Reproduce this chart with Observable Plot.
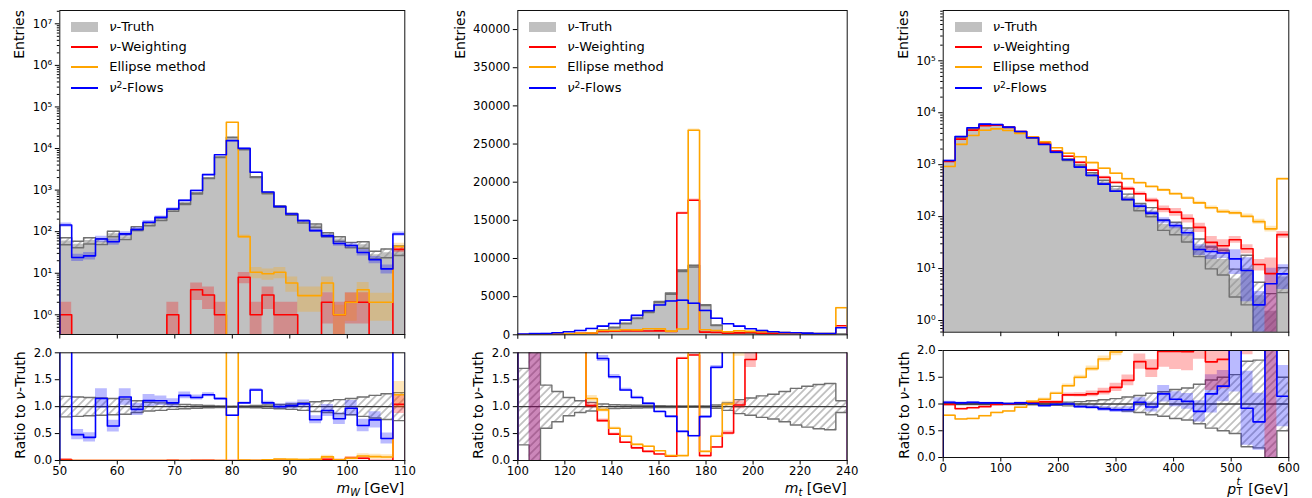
<!DOCTYPE html>
<html>
<head>
<meta charset="utf-8">
<script src="https://cdn.jsdelivr.net/npm/d3@7"></script>
<script src="https://cdn.jsdelivr.net/npm/@observablehq/plot@0.6"></script>
<style>
  html,body{margin:0;padding:0;background:#fff;}
  #root{position:relative;width:1312px;height:498px;overflow:hidden;font-family:"DejaVu Sans",sans-serif;color:#000;}
  .pl{position:absolute;}
  .txt{position:absolute;white-space:nowrap;font-size:14px;line-height:16px;}
  .rot{transform-origin:0 0;transform:rotate(-90deg);width:240px;}
  .leg{position:absolute;font-size:13px;line-height:16px;white-space:nowrap;}
  .sw{position:absolute;}
  sub{font-size:70%;line-height:0;vertical-align:-0.3em;}
  sup{font-size:70%;line-height:0;vertical-align:0.45em;}
  .stk{position:relative;display:inline-block;width:0.55em;height:14px;}
  .stk span{position:absolute;left:0.04em;font-size:9.8px;line-height:1;}
</style>
</head>
<body>
<svg width="0" height="0" style="position:absolute">
  <defs>
    <pattern id="hatch" patternUnits="userSpaceOnUse" width="5.5" height="5.5" patternTransform="rotate(45)">
      <line x1="2.75" y1="-1" x2="2.75" y2="6.5" stroke="#8c8c8c" stroke-width="1"/>
    </pattern>
  </defs>
</svg>
<div id="root"></div>
<script>
// ---------------- data ----------------
const binCount = 29;
const mwRange = [50, 110];
const mtRange = [100, 240];
const ptRange = [0, 600];

// m_W panel
const mwTruth = [60, 50, 61, 58, 89, 75, 119, 151, 199, 327, 468, 833, 1926, 6150, 18450, 9430, 2050, 840, 400, 260, 174, 140, 85, 67, 48, 48.6, 28, 31, 36];
const mwTruthErr = [0.19, 0.18, 0.17, 0.16, 0.15, 0.14, 0.11, 0.08, 0.07, 0.05, 0.04, 0.03, 0.02, 0.015, 0.01, 0.015, 0.02, 0.03, 0.04, 0.05, 0.07, 0.09, 0.11, 0.13, 0.15, 0.18, 0.21, 0.24, 0.26];
const mwWeighting = [1, 0, 0, 0, 0, 0, 0, 0, 0, 1, 0, 4, 3, 1, 0, 8, 1, 3, 1, 1, 0, 0, 2, 1, 2, 2, 0, 0, 37.5];
const mwWeightingErr = [1, 0, 0, 0, 0, 0, 0, 0, 0, 1, 0, 0.45, 0.55, 1, 0, 0.3, 1, 0.55, 1, 1, 0, 0, 0.7, 1, 0.7, 0.7, 0, 0, 0.16];
const mwEllipse = [0, 0, 0, 0, 0, 0, 0, 0, 0, 0, 0, 0, 0, 0, 43000, 76, 10.6, 9.7, 10.6, 5.8, 2.9, 2.9, 5.8, 1, 2, 4, 2, 2, 44];
const mwEllipseErr = [0, 0, 0, 0, 0, 0, 0, 0, 0, 0, 0, 0, 0, 0, 0.005, 0.1, 0.3, 0.3, 0.3, 0.4, 0.6, 0.6, 0.4, 0.7, 0.65, 0.5, 0.65, 0.65, 0.2];
const mwFlows = [145, 24, 26.2, 66.7, 57, 88.5, 113, 168, 221, 350, 566, 975, 2350, 7070, 15500, 10090, 2686, 899, 400, 265, 183, 106, 79, 52, 46.6, 31.6, 21.1, 12.7, 88];
const mwFlowsErr = [0.12, 0.2, 0.2, 0.16, 0.17, 0.13, 0.12, 0.1, 0.08, 0.07, 0.05, 0.04, 0.03, 0.015, 0.01, 0.015, 0.02, 0.03, 0.05, 0.06, 0.07, 0.1, 0.12, 0.14, 0.15, 0.18, 0.2, 0.25, 0.12];

// m_t panel
const mtTruth = [3, 1, 8, 15, 40, 80, 200, 600, 954, 1470, 2170, 2970, 4300, 5400, 8400, 9000, 3900, 1250, 380, 250, 160, 100, 80, 55, 40, 30, 25, 20, 90];
const mtTruthErr = [0.71, 1.5, 0.4, 0.28, 0.17, 0.11, 0.08, 0.05, 0.035, 0.03, 0.025, 0.02, 0.018, 0.015, 0.012, 0.012, 0.015, 0.03, 0.07, 0.13, 0.16, 0.2, 0.23, 0.28, 0.34, 0.38, 0.41, 0.43, 0.11];
const mtWeighting = [20, 40, 60, 90, 130, 190, 204, 444, 467, 500, 510, 505, 516, 432, 15960, 17640, 351, 312, 194, 258, 300, 220, 180, 150, 130, 110, 100, 90, 1180];
const mtWeightingErr = [0.1, 1.0, 0.08, 0.07, 0.06, 0.05, 0.05, 0.04, 0.04, 0.04, 0.04, 0.04, 0.04, 0.04, 0.008, 0.008, 0.05, 0.05, 0.07, 0.07, 0.08, 0.08, 0.09, 0.1, 0.1, 0.1, 0.11, 0.11, 0.03];
const mtEllipse = [10, 30, 60, 100, 150, 200, 230, 564, 572, 661, 651, 787, 774, 486, 756, 26800, 663, 562, 399, 520, 450, 400, 330, 280, 240, 200, 170, 150, 3540];
const mtEllipseErr = [0.3, 0.2, 0.12, 0.1, 0.08, 0.07, 0.05, 0.04, 0.04, 0.04, 0.04, 0.035, 0.035, 0.045, 0.035, 0.006, 0.04, 0.04, 0.05, 0.07, 0.05, 0.05, 0.06, 0.06, 0.07, 0.07, 0.08, 0.08, 0.02];
const mtFlows = [90, 130, 175, 260, 390, 570, 830, 1137, 1484, 1926, 2539, 3148, 3913, 4428, 4536, 4140, 3179, 2163, 1440, 1135, 790, 570, 390, 300, 260, 220, 175, 175, 920];
const mtFlowsErr = [0.1, 1.0, 0.08, 0.06, 0.05, 0.04, 0.035, 0.03, 0.026, 0.023, 0.02, 0.018, 0.016, 0.015, 0.015, 0.016, 0.018, 0.02, 0.026, 0.03, 0.035, 0.04, 0.05, 0.06, 0.06, 0.07, 0.075, 0.075, 0.033];

// p_T panel
const ptTruth = [1170, 3420, 4980, 5910, 5830, 5230, 4270, 3260, 2530, 1760, 1242, 945, 660, 464, 347, 240, 154, 124, 70.6, 61.5, 46.5, 27, 17.9, 15, 6.3, 10, 3, 1.5, 6.9];
const ptTruthErr = [0.01, 0.01, 0.01, 0.01, 0.01, 0.01, 0.01, 0.015, 0.02, 0.025, 0.035, 0.045, 0.06, 0.08, 0.1, 0.13, 0.16, 0.2, 0.23, 0.27, 0.3, 0.37, 0.45, 0.5, 0.55, 0.8, 0.82, 1.2, 0.5];
const ptWeighting = [1158, 3112, 4631, 5615, 5772, 5230, 4355, 3358, 2631, 1830, 1453, 1106, 785, 571, 455, 346, 276, 206, 140, 122, 92, 62, 32, 27.5, 36, 24, 12, 8, 45];
const ptWeightingErr = [0.02, 0.015, 0.01, 0.01, 0.01, 0.01, 0.012, 0.015, 0.02, 0.02, 0.03, 0.035, 0.045, 0.05, 0.06, 0.07, 0.08, 0.1, 0.15, 0.17, 0.18, 0.2, 0.3, 0.3, 0.15, 0.2, 0.25, 1.0, 0.15];
const ptEllipse = [924, 2462, 3635, 4610, 4897, 4550, 4014, 3423, 2758, 2112, 1664, 1418, 1096, 854, 684, 535, 448, 380, 327, 275, 229, 184, 148, 125, 118, 102, 80, 58, 535];
const ptEllipseErr = [0.02, 0.015, 0.012, 0.01, 0.01, 0.01, 0.012, 0.015, 0.02, 0.02, 0.025, 0.025, 0.03, 0.03, 0.035, 0.04, 0.045, 0.05, 0.055, 0.06, 0.065, 0.07, 0.08, 0.08, 0.09, 0.1, 0.11, 0.13, 0.05];
const ptFlows = [1205, 3490, 5130, 6030, 5950, 5280, 4360, 3290, 2450, 1743, 1242, 898, 620, 422, 309, 214, 159, 117, 84, 67, 48.8, 23.3, 21.3, 20, 15.4, 9.2, 2.0, 5.1, 7.9];
const ptFlowsErr = [0.02, 0.015, 0.01, 0.01, 0.01, 0.01, 0.012, 0.015, 0.02, 0.02, 0.025, 0.03, 0.04, 0.05, 0.055, 0.065, 0.08, 0.1, 0.13, 0.13, 0.14, 0.23, 0.3, 0.22, 0.5, 0.75, 0.8, 1.0, 0.5];

// ticks and labels
const mwXTicks = [50, 60, 70, 80, 90, 100, 110];
const mtXTicks = [100, 120, 140, 160, 180, 200, 220, 240];
const ptXTicks = [0, 100, 200, 300, 400, 500, 600];
const mwYTicks = [1, 10, 100, 1e3, 1e4, 1e5, 1e6, 1e7];
const mtYTicks = [0, 5000, 10000, 15000, 20000, 25000, 30000, 35000, 40000];
const ptYTicks = [1, 10, 100, 1e3, 1e4, 1e5];
const ratioTicks = [0, 0.5, 1.0, 1.5, 2.0];
const legendLabels = ["<i>ν</i>-Truth", "<i>ν</i>-Weighting", "Ellipse method", "<i>ν</i><sup>2</sup>-Flows"];
const xLabels = [
  '<i>m</i><sub><i>W</i></sub> [GeV]',
  '<i>m</i><sub><i>t</i></sub> [GeV]',
  '<i>p</i><span class="stk"><span style="top:-3px"><i>t</i></span><span style="top:7px">T</span></span> [GeV]'
];
const yLabelMain = "Entries";
const yLabelRatio = "Ratio to <i>ν</i>-Truth";

// ---------------- style / layout ----------------
const colTruth = "#c0c0c0", colRed = "#ff0000", colOrange = "#ffa500", colBlue = "#0000ff";
const bandAlpha = 0.27;
const layout = [
  {svgLeft: 0,   w: 420, plotL: 59.3,  plotR: 404.3,  mainTop: 10, mainBot: 334,   ratTop: 352.3, ratBot: 460, entX: 11.2,  ratX: 12.2,  yMain: [0.336, 2.09e7], log: true},
  {svgLeft: 430, w: 430, plotL: 517.3, plotR: 846.7,  mainTop: 10, mainBot: 334.3, ratTop: 352.3, ratBot: 460, entX: 451.5, ratX: 470,   yMain: [0, 42500], log: false},
  {svgLeft: 860, w: 452, plotL: 942.7, plotR: 1288.3, mainTop: 10, mainBot: 331.7, ratTop: 350,   ratBot: 457, entX: 895,   ratX: 895.5, yMain: [0.596, 9.3e5], log: true}
];

const FLOOR = 1e-3;
const SUP = "⁰¹²³⁴⁵⁶⁷⁸⁹";
const pow10 = d => "10" + String(Math.round(Math.log10(d))).split("").map(c => SUP[+c]).join("");
function edgesOf(r) { return d3.range(binCount + 1).map(i => r[0] + i * (r[1] - r[0]) / binCount); }
function minorTicks(dom) {
  const out = [];
  for (let e = Math.floor(Math.log10(dom[0])); e <= Math.ceil(Math.log10(dom[1])); e++)
    for (let k = 2; k <= 9; k++) { const v = k * Math.pow(10, e); if (v >= dom[0] && v <= dom[1]) out.push(v); }
  return out;
}
function stepPts(edges, vals, base) {
  const p = [{x: edges[0], y: base}];
  vals.forEach((v, i) => { p.push({x: edges[i], y: v}, {x: edges[i + 1], y: v}); });
  p.push({x: edges[edges.length - 1], y: base});
  return p;
}
function bandPts(edges, lo, hi) {
  const p = [];
  lo.forEach((l, i) => { p.push({x: edges[i], lo: l, hi: hi[i]}, {x: edges[i + 1], lo: l, hi: hi[i]}); });
  return p;
}
function outlinePts(edges, lo, hi) {
  const p = [];
  hi.forEach((h, i) => p.push({x: edges[i], y: h}, {x: edges[i + 1], y: h}));
  for (let i = lo.length - 1; i >= 0; i--) p.push({x: edges[i + 1], y: lo[i]}, {x: edges[i], y: lo[i]});
  p.push(p[0]);
  return p;
}

const panels = [
  {edges: edgesOf(mwRange), xDomain: mwRange, xTicks: mwXTicks, yTicks: mwYTicks, truth: mwTruth, truthErr: mwTruthErr,
   series: [{v: mwWeighting, e: mwWeightingErr, c: colRed}, {v: mwEllipse, e: mwEllipseErr, c: colOrange}, {v: mwFlows, e: mwFlowsErr, c: colBlue}]},
  {edges: edgesOf(mtRange), xDomain: mtRange, xTicks: mtXTicks, yTicks: mtYTicks, truth: mtTruth, truthErr: mtTruthErr,
   series: [{v: mtWeighting, e: mtWeightingErr, c: colRed}, {v: mtEllipse, e: mtEllipseErr, c: colOrange}, {v: mtFlows, e: mtFlowsErr, c: colBlue}]},
  {edges: edgesOf(ptRange), xDomain: ptRange, xTicks: ptXTicks, yTicks: ptYTicks, truth: ptTruth, truthErr: ptTruthErr,
   series: [{v: ptWeighting, e: ptWeightingErr, c: colRed}, {v: ptEllipse, e: ptEllipseErr, c: colOrange}, {v: ptFlows, e: ptFlowsErr, c: colBlue}]}
];

const root = document.getElementById("root");
const baseStyle = {fontFamily: '"DejaVu Sans", sans-serif', fontSize: "11.7px", color: "#000", background: "transparent", overflow: "visible"};

function place(el, left, top) {
  const d = document.createElement("div");
  d.className = "pl"; d.style.left = left + "px"; d.style.top = top + "px";
  d.appendChild(el); root.appendChild(d);
}
function addHTML(cls, html, css) {
  const d = document.createElement("div");
  d.className = cls; d.innerHTML = html;
  Object.assign(d.style, css); root.appendChild(d);
}

panels.forEach((P, k) => {
  const L = layout[k];
  const log = L.log;
  const base = log ? FLOOR : 0;
  const fix = v => log ? Math.max(v, FLOOR) : v;
  const bandOrder = [2, 1, 0]; // blue, orange, red bands; lines red, orange, blue on top

  // ---- main panel ----
  const tLo = P.truth.map((t, i) => fix(t * (1 - P.truthErr[i])));
  const tHi = P.truth.map((t, i) => t * (1 + P.truthErr[i]));
  const mainMarks = [
    Plot.areaY(stepPts(P.edges, P.truth.map(fix), base).map(d => ({...d, b: base})), {x: "x", y1: "b", y2: "y", fill: colTruth, clip: true}),
    Plot.areaY(bandPts(P.edges, tLo, tHi), {x: "x", y1: "lo", y2: "hi", fill: "url(#hatch)", clip: true}),
    Plot.line(outlinePts(P.edges, tLo, tHi), {x: "x", y: "y", stroke: "#707070", strokeWidth: 1.4, clip: true})
  ];
  for (const j of bandOrder) {
    const s = P.series[j];
    const lo = s.v.map((v, i) => v > 0 ? fix(v * (1 - s.e[i])) : NaN);
    const hi = s.v.map((v, i) => v > 0 ? v * (1 + s.e[i]) : NaN);
    mainMarks.push(Plot.areaY(bandPts(P.edges, lo, hi), {x: "x", y1: "lo", y2: "hi", fill: s.c, fillOpacity: bandAlpha, clip: true}));
  }
  for (const s of P.series) {
    mainMarks.push(Plot.line(stepPts(P.edges, s.v.map(fix), base), {x: "x", y: "y", stroke: s.c, strokeWidth: 1.6, clip: true}));
  }
  const mainH = L.mainBot + 14;
  const main = Plot.plot({
    width: L.w, height: mainH,
    marginLeft: L.plotL - L.svgLeft, marginRight: L.svgLeft + L.w - L.plotR,
    marginTop: L.mainTop, marginBottom: mainH - L.mainBot,
    style: baseStyle,
    x: {domain: P.xDomain},
    y: log ? {type: "log", domain: L.yMain} : {domain: L.yMain},
    marks: [
      ...mainMarks,
      Plot.axisX({ticks: P.xTicks, tickFormat: () => "", tickSize: 4.5, label: null}),
      Plot.axisY({ticks: P.yTicks, tickFormat: log ? pow10 : (d => String(d)), tickSize: 4.5, tickPadding: 3, label: null}),
      ...(log ? [Plot.axisY({ticks: minorTicks(L.yMain), tickFormat: () => "", tickSize: 2.5, label: null})] : []),
      Plot.frame({stroke: "#111", strokeWidth: 1})
    ]
  });
  place(main, L.svgLeft, 0);

  // ---- ratio panel ----
  const rLo = P.truthErr.map(e => 1 - e), rHi = P.truthErr.map(e => 1 + e);
  const ratioMarks = [
    Plot.areaY(bandPts(P.edges, rLo, rHi), {x: "x", y1: "lo", y2: "hi", fill: "url(#hatch)", clip: true}),
    Plot.line(outlinePts(P.edges, rLo, rHi), {x: "x", y: "y", stroke: "#707070", strokeWidth: 1.4, clip: true}),
    Plot.ruleY([1], {stroke: "#3a3a3a", strokeWidth: 1.4})
  ];
  for (const j of bandOrder) {
    const s = P.series[j];
    const r = s.v.map((v, i) => v / P.truth[i]);
    const lo = r.map((x, i) => s.v[i] > 0 ? x * (1 - s.e[i]) : NaN);
    const hi = r.map((x, i) => s.v[i] > 0 ? x * (1 + s.e[i]) : NaN);
    ratioMarks.push(Plot.areaY(bandPts(P.edges, lo, hi), {x: "x", y1: "lo", y2: "hi", fill: s.c, fillOpacity: bandAlpha, clip: true}));
  }
  for (const s of P.series) {
    const r = s.v.map((v, i) => v / P.truth[i]);
    ratioMarks.push(Plot.line(stepPts(P.edges, r, 0), {x: "x", y: "y", stroke: s.c, strokeWidth: 1.6, clip: true}));
  }
  const ratTopSvg = 340, ratH = 498 - ratTopSvg;
  const ratio = Plot.plot({
    width: L.w, height: ratH,
    marginLeft: L.plotL - L.svgLeft, marginRight: L.svgLeft + L.w - L.plotR,
    marginTop: L.ratTop - ratTopSvg, marginBottom: 498 - L.ratBot,
    style: baseStyle,
    x: {domain: P.xDomain},
    y: {domain: [0, 2]},
    marks: [
      ...ratioMarks,
      Plot.axisX({ticks: P.xTicks, tickFormat: d => String(d), tickSize: 4.5, tickPadding: 2, label: null}),
      Plot.axisY({ticks: ratioTicks, tickFormat: d3.format(".1f"), tickSize: 4.5, tickPadding: 3, label: null}),
      Plot.frame({stroke: "#111", strokeWidth: 1})
    ]
  });
  place(ratio, L.svgLeft, ratTopSvg);

  // ---- text labels ----
  addHTML("txt rot", yLabelMain, {left: L.entX + "px", top: (10 + 240) + "px", textAlign: "right"});
  addHTML("txt rot", yLabelRatio, {left: L.ratX + "px", top: (405 + 120) + "px", textAlign: "center"});
  addHTML("txt", xLabels[k], {right: (1312 - L.plotR) + "px", top: "480px"});

  // ---- legend ----
  const rows = [26.5, 46.8, 67.2, 87.5];
  const lx = Math.round(L.plotL + 12);
  addHTML("sw", "", {left: lx + "px", top: Math.round(rows[0] - 4.7) + "px", width: "27px", height: "10px", background: colTruth});
  [colRed, colOrange, colBlue].forEach((c, j) => {
    addHTML("sw", "", {left: lx + "px", top: Math.round(rows[j + 1] - 1) + "px", width: "27px", height: "2px", background: c});
  });
  legendLabels.forEach((t, j) => addHTML("leg", t, {left: (L.plotL + 50) + "px", top: (rows[j] - 8) + "px"}));
});
</script>
</body>
</html>
